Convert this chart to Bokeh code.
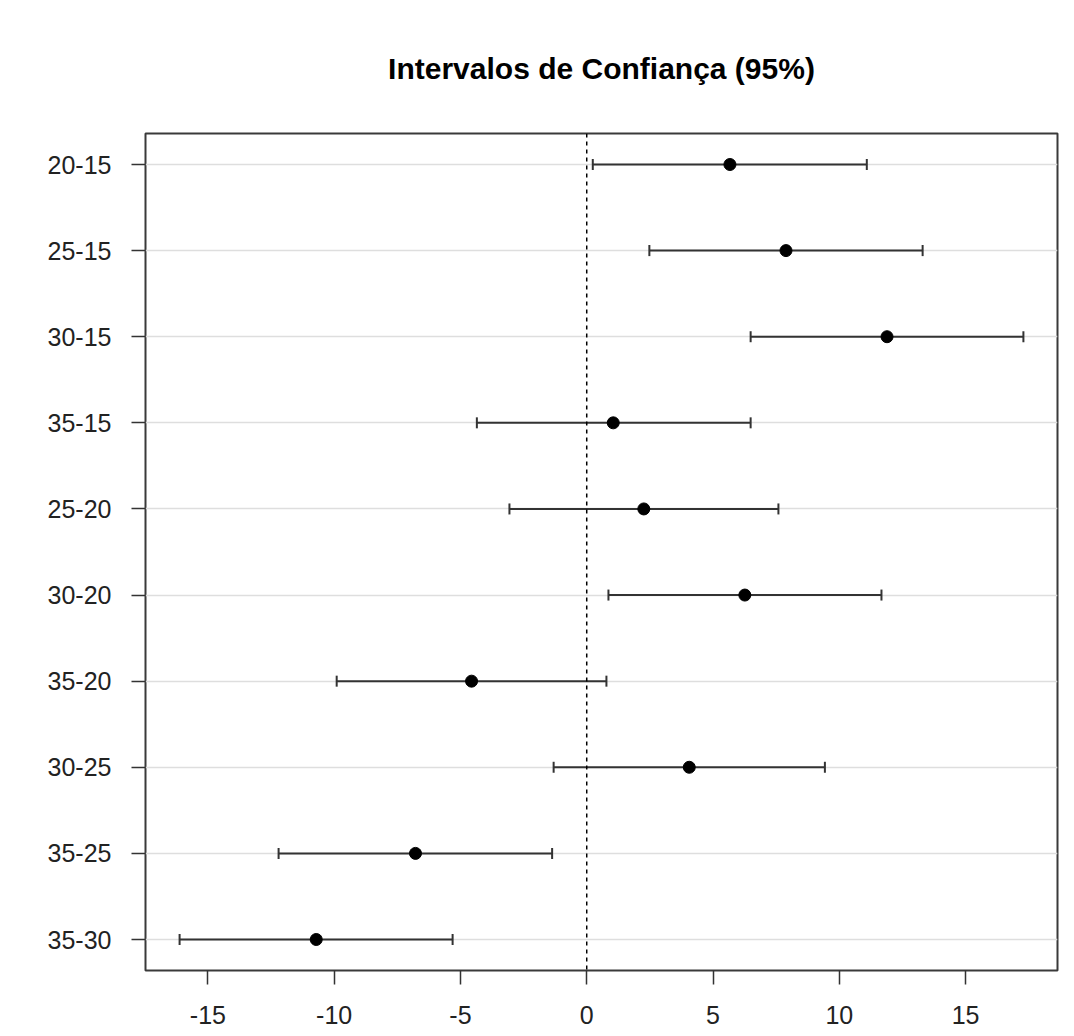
from bokeh.plotting import figure
from bokeh.models import (Range1d, FixedTicker, Span, Whisker, TeeHead,
                          ColumnDataSource)
from bokeh.embed import file_html
from bokeh.resources import INLINE

# ---- data (Tukey-style 95% confidence intervals) ----
comparisons = ["20-15", "25-15", "30-15", "35-15", "25-20",
               "30-20", "35-20", "30-25", "35-25", "35-30"]
diff = [5.67, 7.89, 11.89, 1.05, 2.26, 6.26, -4.56, 4.06, -6.78, -10.71]
lwr = [0.24, 2.48, 6.49, -4.35, -3.06, 0.86, -9.90, -1.31, -12.20, -16.12]
upr = [11.09, 13.30, 17.29, 6.49, 7.59, 11.67, 0.78, 9.43, -1.37, -5.31]
x_ticks = [-15, -10, -5, 0, 5, 10, 15]
title_text = "Intervalos de Confiança (95%)"

n = len(comparisons)
pos = list(range(n, 0, -1))
src = ColumnDataSource(dict(comp=comparisons, diff=diff, lwr=lwr, upr=upr, pos=pos))

FONT = "Liberation Sans"

p = figure(width=1074, height=1036,
           x_range=Range1d(-17.47, 18.64), y_range=Range1d(0.64, 10.36),
           output_backend="svg", toolbar_location=None,
           min_border_left=145, min_border_right=17,
           min_border_top=133, min_border_bottom=66,
           title=title_text)

p.title.align = "center"
p.title.text_font = FONT
p.title.text_font_size = "30px"
p.title.text_font_style = "bold"
p.title.text_color = "black"
p.title.standoff = 98

p.outline_line_color = "#3a3a3a"
p.outline_line_width = 2

p.xgrid.visible = False
p.ygrid.ticker = FixedTicker(ticks=pos)
p.ygrid.grid_line_color = "#dedede"
p.ygrid.grid_line_width = 1.5

for ax in (p.xaxis[0], p.yaxis[0]):
    ax.axis_line_color = None
    ax.major_tick_line_color = "#333333"
    ax.major_tick_line_width = 1.5
    ax.major_tick_out = 14
    ax.major_tick_in = 0
    ax.minor_tick_line_color = None
    ax.major_label_text_font = FONT
    ax.major_label_text_font_size = "25px"
    ax.major_label_text_color = "#222222"

p.xaxis.ticker = FixedTicker(ticks=x_ticks)
p.xaxis.major_label_overrides = {t: str(t) for t in x_ticks}
p.xaxis.major_label_standoff = 21

p.yaxis.ticker = FixedTicker(ticks=pos)
p.yaxis.major_label_overrides = {pp: c for pp, c in zip(pos, comparisons)}
p.yaxis.major_label_standoff = 20

p.add_layout(Span(location=0, dimension="height", line_color="black",
                  line_width=1.5, line_dash="4 4"))

whisk = Whisker(source=src, base="pos", lower="lwr", upper="upr",
                dimension="width", line_color="#333333", line_width=2,
                upper_head=TeeHead(size=11, line_color="#333333", line_width=2),
                lower_head=TeeHead(size=11, line_color="#333333", line_width=2))
p.add_layout(whisk)

p.scatter("diff", "pos", source=src, size=12, color="black")

open("out.html", "w").write(file_html(p, INLINE))
